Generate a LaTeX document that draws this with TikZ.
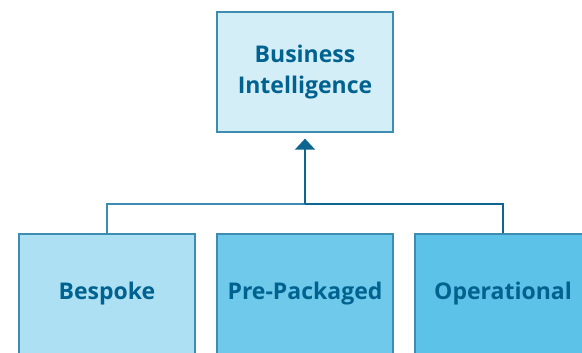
\documentclass[tikz,border=0pt]{standalone}
\usepackage{fontspec}
\setmainfont{Open Sans}
\usetikzlibrary{arrows.meta}
\definecolor{txtblue}{HTML}{00628F}
\definecolor{edgeblue}{HTML}{3D8DB3}
\definecolor{lineblue}{HTML}{0E6590}
\definecolor{topfill}{HTML}{D4EEF8}
\definecolor{fillA}{HTML}{AEE0F4}
\definecolor{fillB}{HTML}{6FC9EB}
\definecolor{fillC}{HTML}{5CC2E7}
\tikzset{
  box/.style={draw=edgeblue, line width=1.3pt, minimum width=176pt, minimum height=120pt,
    inner sep=0pt, text=txtblue, font=\bfseries\fontsize{23}{31}\selectfont, align=center},
  conn/.style={draw=lineblue, line width=1.6pt},
}
\begin{document}
\begin{tikzpicture}[x=1pt,y=-1pt]
\useasboundingbox (0,0) rectangle (582,353);
\clip (0,0) rectangle (582,353);
\node[box, fill=topfill] (bi) at (305,72) {Business\\Intelligence};
\node[box, fill=fillA] (bes) at (107,294) {Bespoke};
\node[box, fill=fillB] (pre) at (305,294) {Pre-Packaged};
\node[box, fill=fillC] (ope) at (503,294) {Operational};
\coordinate (j) at (305,204);
\draw[conn, draw=edgeblue] (bes.north) |- (j);
\draw[conn] (ope.north) |- (j);
\draw[conn, -{Triangle[width=20pt,length=11pt]}] (j) -- ([yshift=-6pt]bi.south);
\end{tikzpicture}
\end{document}
